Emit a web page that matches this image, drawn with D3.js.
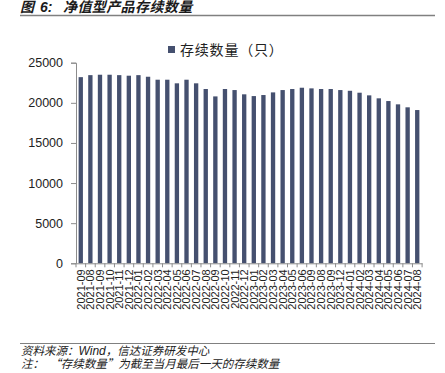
<!DOCTYPE html>
<html>
<head>
<meta charset="utf-8">
<script src="https://cdn.jsdelivr.net/npm/d3@7"></script>
<style>
  body { margin: 0; background: #fff; }
  svg { display: block; }
  .cjk { font-family: "Noto Sans CJK SC", "DejaVu Sans", sans-serif; }
  .tick text { font-family: "Liberation Sans", Arial, sans-serif; fill: #222; }
</style>
</head>
<body>
<svg width="445" height="373"></svg>
<script>
// month labels as printed on the original chart (some repeat)
const months = [
  '2021-09', '2021-08', '2021-09', '2021-10', '2021-11', '2021-12',
  '2022-01', '2022-02', '2022-03', '2022-04', '2022-05', '2022-06',
  '2022-07', '2022-08', '2022-09', '2022-10', '2022-11', '2022-12',
  '2023-01', '2023-02', '2023-03', '2023-04', '2023-05', '2023-06',
  '2023-09', '2023-08', '2023-09', '2023-12',
  '2024-01', '2024-02', '2024-03', '2024-04', '2024-05', '2024-06',
  '2024-07', '2024-08'
];
// 存续数量（只）
const counts = [
  23200, 23450, 23500, 23500, 23450, 23380, 23450, 23250, 22880, 22880,
  22430, 22880, 22430, 21720, 20800, 21720, 21590, 21060, 20840, 20970,
  21300, 21590, 21720, 21880, 21800, 21720, 21720, 21590, 21500, 21260,
  20930, 20560, 20220, 19810, 19440, 19100
];
const yTicks = [0, 5000, 10000, 15000, 20000, 25000];

const svg = d3.select('svg');
const margin = {top: 62.7, left: 76, right: 23, bottom: 109.7};
const width = +svg.attr('width');
const height = +svg.attr('height');
const innerWidth = width - margin.left - margin.right;
const innerHeight = height - margin.top - margin.bottom;
const barColor = '#45506f';
const axisColor = '#8c8c8c';

// title + rule
const title = svg.append('g').attr('class', 'cjk')
  .style('font-weight', 'bold').style('font-style', 'italic')
  .style('font-size', '14px').attr('fill', '#1b1b1b');
title.append('text').attr('x', 20).attr('y', 12).text('图');
title.append('text').attr('x', 40).attr('y', 12)
  .style('font-family', '"Liberation Sans", Arial, sans-serif').text('6:');
title.append('text').attr('x', 63).attr('y', 12)
  .style('letter-spacing', '0.4px').text('净值型产品存续数量');
svg.append('line')
  .attr('x1', 20).attr('x2', 435).attr('y1', 15.5).attr('y2', 15.5)
  .attr('stroke', '#808080').attr('stroke-width', 1.5);

// legend
svg.append('rect')
  .attr('x', 168).attr('y', 46).attr('width', 7).attr('height', 7)
  .attr('fill', barColor);
svg.append('text').attr('class', 'cjk')
  .attr('x', 180).attr('y', 54.5)
  .style('font-size', '14px').style('letter-spacing', '0.8px')
  .attr('fill', '#222')
  .text('存续数量（只）');

const g = svg.append('g')
  .attr('transform', `translate(${margin.left},${margin.top})`);

const xScale = d3.scaleBand()
  .domain(d3.range(months.length))
  .range([0, innerWidth])
  .paddingInner(0.55)
  .paddingOuter(0.27);

const yScale = d3.scaleLinear()
  .domain([0, 25000])
  .range([innerHeight, 0]);

// y axis
const yAxisG = g.append('g')
  .call(d3.axisLeft(yScale).tickValues(yTicks).tickFormat(d3.format('d'))
    .tickSize(5).tickPadding(8));
yAxisG.selectAll('path, line').attr('stroke', axisColor);
yAxisG.selectAll('text').style('font-size', '12.5px');

// bars
g.selectAll('rect.bar').data(counts)
  .enter().append('rect')
    .attr('class', 'bar')
    .attr('x', (d, i) => xScale(i))
    .attr('y', d => yScale(d))
    .attr('width', xScale.bandwidth())
    .attr('height', d => innerHeight - yScale(d))
    .attr('fill', barColor);

// x axis
const xAxisG = g.append('g')
  .attr('transform', `translate(0,${innerHeight})`)
  .call(d3.axisBottom(xScale).tickSize(0).tickFormat(i => months[i]));
xAxisG.select('.domain').attr('stroke', axisColor);
xAxisG.selectAll('text')
  .attr('transform', 'rotate(-90)')
  .attr('x', -6)
  .attr('y', 0)
  .attr('dy', '0.36em')
  .style('text-anchor', 'end')
  .style('font-size', '11px');
// tick marks at the band edges
const step = xScale.step();
xAxisG.selectAll('line.edge')
  .data(d3.range(months.length + 1))
  .enter().append('line')
    .attr('class', 'edge')
    .attr('x1', i => i * step)
    .attr('x2', i => i * step)
    .attr('y1', 0).attr('y2', 4)
    .attr('stroke', axisColor);

// footer
svg.append('line')
  .attr('x1', 20).attr('x2', 435).attr('y1', 343.5).attr('y2', 343.5)
  .attr('stroke', '#808080').attr('stroke-width', 1.2);
const foot = svg.append('g').attr('class', 'cjk')
  .style('font-style', 'italic').style('font-size', '11.5px').attr('fill', '#222');
foot.append('text').attr('x', 21).attr('y', 355)
  .text('资料来源：')
  .append('tspan').style('font-family', '"Liberation Sans", Arial, sans-serif')
  .style('font-size', '12px').text('Wind')
  .select(function () { return this.parentNode; })
  .append('tspan').text('，信达证券研发中心');
foot.append('text').attr('x', 21).attr('y', 368)
  .attr('xml:space', 'preserve')
  .text('注：  “存续数量”为截至当月最后一天的存续数量');
</script>
</body>
</html>
